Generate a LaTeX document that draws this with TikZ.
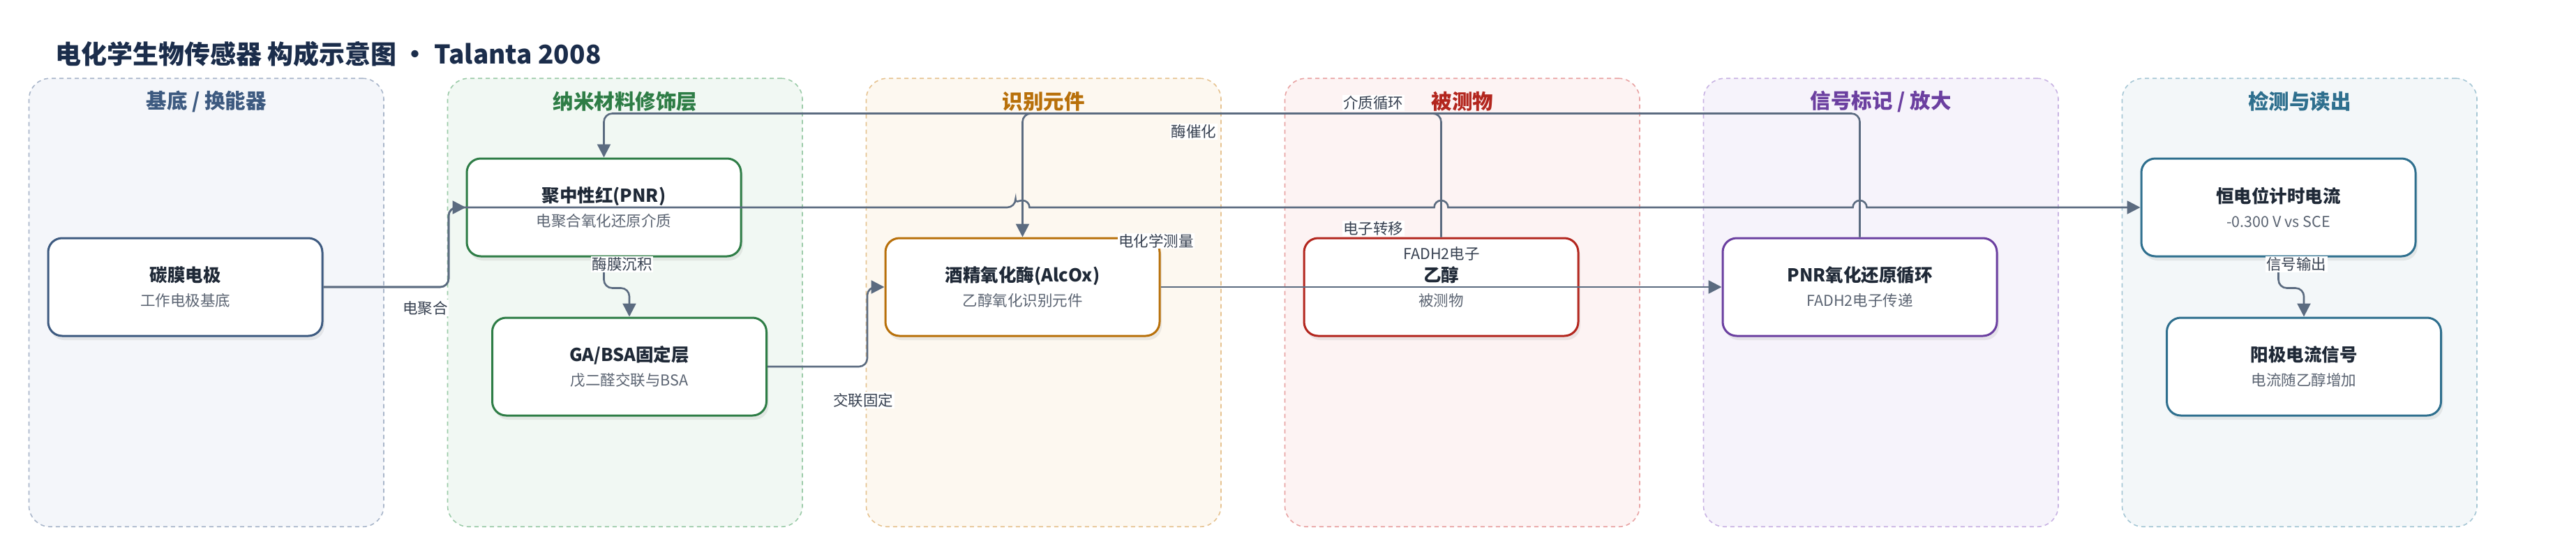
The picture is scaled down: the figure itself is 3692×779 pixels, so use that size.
\documentclass[tikz,border=0pt]{standalone}
\usepackage{fontspec}
\setmainfont{Noto Sans CJK SC}
\usetikzlibrary{arrows.meta,shadows,calc}

\definecolor{ink}{HTML}{1B2D4B}
\definecolor{nodeink}{HTML}{1F2937}
\definecolor{subgrey}{HTML}{5B6472}
\definecolor{lblcol}{HTML}{374151}
\definecolor{wirecol}{HTML}{5B6B80}

\definecolor{subln}{HTML}{A9B6CA}\definecolor{subfl}{HTML}{F4F6FA}\definecolor{subhd}{HTML}{3D5A80}
\definecolor{nanoln}{HTML}{9CCBA9}\definecolor{nanofl}{HTML}{F1F8F3}\definecolor{nanohd}{HTML}{2E7D46}
\definecolor{recln}{HTML}{E6C391}\definecolor{recfl}{HTML}{FDF8F0}\definecolor{rechd}{HTML}{B8700A}
\definecolor{analn}{HTML}{E8A3A3}\definecolor{anafl}{HTML}{FDF3F3}\definecolor{anahd}{HTML}{B3261E}
\definecolor{sigln}{HTML}{C8B3E3}\definecolor{sigfl}{HTML}{F6F3FB}\definecolor{sighd}{HTML}{6B3FA0}
\definecolor{detln}{HTML}{A6C7D5}\definecolor{detfl}{HTML}{F3F7F9}\definecolor{dethd}{HTML}{2E6F8E}

\newcommand\nodettl{\fontsize{25.5}{35}\selectfont\bfseries}
\newcommand\nodesub{\fontsize{21.5}{35}\selectfont\color{subgrey}}

\begin{document}
\begin{tikzpicture}[x=1pt, y=-1pt,
    panel/.style={dash pattern=on 6pt off 5pt, line width=1.6pt, rounded corners=30pt,
        minimum width=508.5pt, minimum height=642pt},
    head/.style={font=\fontsize{29.5}{32}\selectfont\bfseries},
    box/.style={draw, line width=3pt, rounded corners=20pt, fill=white,
        minimum width=393pt, minimum height=140pt, align=center, text=nodeink,
        font=\fontsize{21.5}{35}\selectfont,
        drop shadow={shadow xshift=3pt, shadow yshift=-6pt, opacity=0.14}},
    wire/.style={draw=wirecol, line width=2.6pt, rounded corners=12pt,
        -{Triangle[length=19pt,width=19pt]}},
    lbl/.style={fill=white, inner sep=1.5pt, text=lblcol, font=\fontsize{21.5}{24}\selectfont}]

    \useasboundingbox (0,0) rectangle (3692,779);

    \node[anchor=west, inner sep=0pt, text=ink, font=\fontsize{37}{40}\selectfont\bfseries]
        (ttl) at (78.8,77) {电化学生物传感器 构成示意图 • Talanta 2008};

    % panels, left edge every 600
    \foreach \k/\x/\t in {sub/41.5/{基底 / 换能器}, nano/641.5/纳米材料修饰层, rec/1241.5/识别元件,
                          ana/1841.5/被测物, sig/2441.5/{信号标记 / 放大}, det/3041.5/检测与读出}
    {
        \node[panel, draw=\k ln, fill=\k fl] (p-\k) at (\x+254.25,433.25) {};
        \node[head, text=\k hd] (h-\k) at (\x+254.25,145.4) {\t};
    }

    \node[box, draw=subhd]  (kt)  at (265.5,411)  {{\nodettl 碳膜电极}\\{\nodesub 工作电极基底}};
    \node[box, draw=nanohd] (pnr) at (865.5,297)  {{\nodettl 聚中性红(PNR)}\\{\nodesub 电聚合氧化还原介质}};
    \node[box, draw=nanohd] (ga)  at (902,525)    {{\nodettl GA/BSA固定层}\\{\nodesub 戊二醛交联与BSA}};
    \node[box, draw=rechd]  (aox) at (1465.5,411) {{\nodettl 酒精氧化酶(AlcOx)}\\{\nodesub 乙醇氧化识别元件}};
    \node[box, draw=anahd]  (eth) at (2065.5,411) {{\nodettl 乙醇}\\{\nodesub 被测物}};
    \node[box, draw=sighd]  (cyc) at (2665.5,411) {{\nodettl PNR氧化还原循环}\\{\nodesub FADH2电子传递}};
    \node[box, draw=dethd]  (amp) at (3265.5,297) {{\nodettl 恒电位计时电流}\\{\nodesub -0.300 V vs SCE}};
    \node[box, draw=dethd]  (out) at (3302,525)   {{\nodettl 阳极电流信号}\\{\nodesub 电流随乙醇增加}};

    % crossings on the measuring line
    \coordinate (j1) at (aox.north |- amp.west);
    \coordinate (j2) at (eth.north |- amp.west);
    \coordinate (j3) at (cyc.north |- amp.west);

    \draw[wire] (kt.east) -- ++(179.5,0) |- (pnr.west);
    \draw[wire] (kt.east) -- ++(179.5,0) |- ([xshift=-10pt]j1) [sharp corners]
        arc[start angle=180, end angle=360, radius=10] -- ([xshift=-10pt]j2)
        arc[start angle=180, end angle=360, radius=10] -- ([xshift=-10pt]j3)
        arc[start angle=180, end angle=360, radius=10] -- (amp.west);
    \draw[wire] (pnr.south) -- ++(0,44) -| (ga.north);
    \draw[wire] (ga.east) -- ++(143,0) |- (aox.west);
    \draw[wire] (eth.north) -- ++(0,-177) -| (aox.north);
    \draw[wire] (cyc.north) -- ++(0,-177) -| (pnr.north);
    \draw[wire] (aox.east) -- (cyc.west);
    \draw[wire] (amp.south) -- ++(0,44) -| (out.north);

    \node[lbl] (l-ep)   at (609.5,441)  {电聚合};
    \node[lbl] (l-dep)  at (891.5,378.6) {酶膜沉积};
    \node[lbl] (l-fix)  at (1237,573)   {交联固定};
    \node[lbl] (l-cat)  at (1711,188.5) {酶催化};
    \node[lbl] (l-meas) at (1657,345)   {电化学测量};
    \node[lbl] (l-med)  at (1968,147.5) {介质循环};
    \node[lbl] (l-et)   at (1968,327)   {电子转移};
    \node[lbl] (l-fad)  at (2066,363.5) {FADH2电子};
    \node[lbl] (l-sig)  at (3291,378.6) {信号输出};
    % \node[lbl] at (2165,411) {};
\end{tikzpicture}
\end{document}
